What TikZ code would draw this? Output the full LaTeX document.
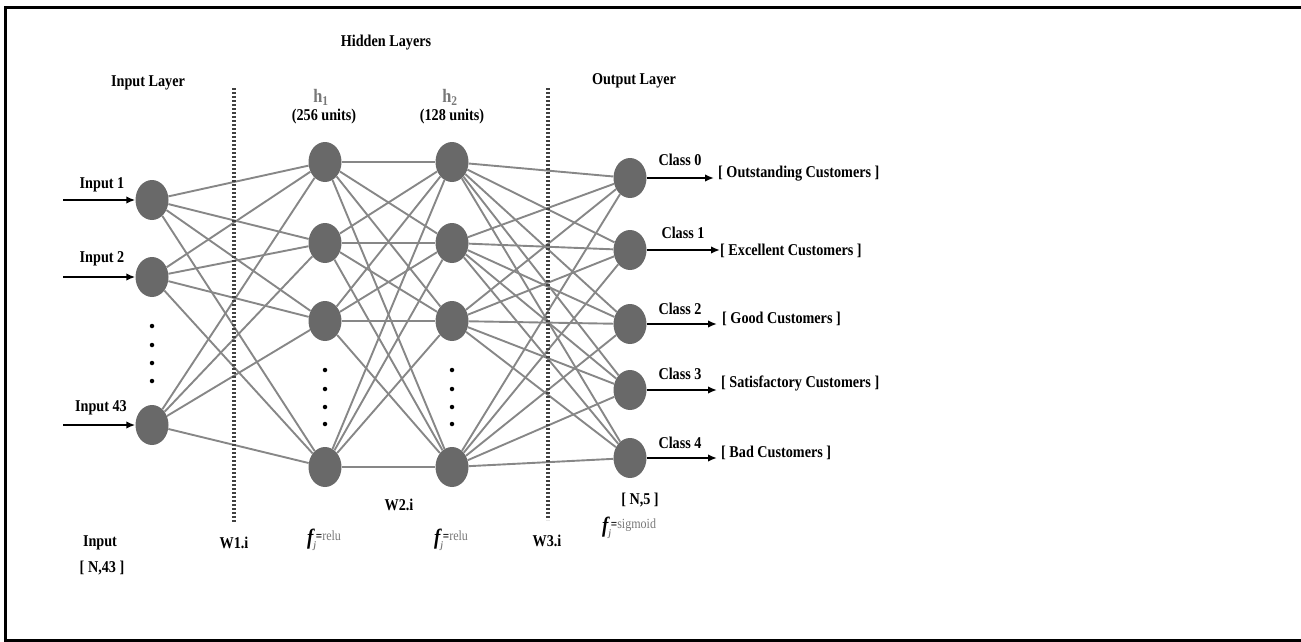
\documentclass[tikz,border=0pt]{standalone}
\usepackage{fontspec}
\setmainfont[FakeStretch=0.86]{Liberation Serif}
\usetikzlibrary{shapes.geometric,arrows.meta}
\definecolor{nodegray}{RGB}{105,105,105}
\definecolor{edgegray}{RGB}{135,135,135}
\definecolor{txtgray}{RGB}{120,120,120}
% activation label: bold f, grey subscript j, "=" and grey function name
\newcommand\actlabel[1]{{\fontsize{22}{22}\selectfont\bfseries\itshape f}\raisebox{-4pt}{\fontsize{10}{10}\selectfont\color{txtgray}\itshape j}\raisebox{4pt}{\fontsize{13}{13}\selectfont\bfseries =}\raisebox{4pt}{\fontsize{14}{14}\selectfont\mdseries\color{txtgray}#1}}
\begin{document}
\begin{tikzpicture}[x=1pt,y=-1pt,
  neuron/.style={ellipse, fill=nodegray, minimum width=33pt, minimum height=40pt, inner sep=0pt},
  link/.style={draw=edgegray, line width=1.9pt},
  feed/.style={-{Latex[length=9pt,width=7.5pt]}, line width=2.2pt, black},
  lbl/.style={font=\fontsize{16.5}{18}\selectfont\bfseries, inner sep=0pt},
  sepline/.style={line width=3.2pt, dash pattern=on 2pt off 2pt, draw=black!75},
  dotmark/.style={circle, fill=black, inner sep=0pt, minimum size=4.5pt}]
\useasboundingbox (0,0) rectangle (1301,642);
\clip (0,0) rectangle (1301,642);
% frame
\draw[line width=3pt] (1310,8) -- (5.5,8) -- (5.5,640.5) -- (1310,640.5);

% input layer
\node[neuron] (i1) at (152,200) {};
\node[neuron] (i2) at (152,277) {};
\node[neuron] (i3) at (152,425) {};
% hidden layer 1
\node[neuron] (a1) at (325,162) {};
\node[neuron] (a2) at (325,243) {};
\node[neuron] (a3) at (325,321) {};
\node[neuron] (a4) at (325,467) {};
% hidden layer 2
\node[neuron] (b1) at (452,162) {};
\node[neuron] (b2) at (452,243) {};
\node[neuron] (b3) at (452,321) {};
\node[neuron] (b4) at (452,467) {};
% output layer
\node[neuron] (o0) at (630,178) {};
\node[neuron] (o1) at (630,250) {};
\node[neuron] (o2) at (630,324) {};
\node[neuron] (o3) at (630,390) {};
\node[neuron] (o4) at (630,458) {};

% weights
\foreach \s in {i1,i2,i3}
  \foreach \t in {a1,a2,a3,a4}
    \draw[link] (\s) -- (\t);
\foreach \s in {a1,a2,a3,a4}
  \foreach \t in {b1,b2,b3,b4}
    \draw[link] (\s) -- (\t);
\foreach \s in {b1,b2,b3,b4}
  \foreach \t in {o0,o1,o2,o3,o4}
    \draw[link] (\s) -- (\t);

% elided units
\foreach \y [count=\k] in {326,345,363,381}
  \node[dotmark] (di\k) at (152,\y) {};
\foreach \y [count=\k] in {370,389,407,424} {
  \node[dotmark] (da\k) at (325,\y) {};
  \node[dotmark] (db\k) at (452,\y) {};
}

% weight separators
\coordinate (s1t) at (234,88);  \coordinate (s1b) at (234,522);
\coordinate (s2t) at (548,88);  \coordinate (s2b) at (548,520);
\draw[sepline] (s1t) -- (s1b);
\draw[sepline] (s2t) -- (s2b);

% inputs
\coordinate (x1) at (63,200);
\coordinate (x2) at (63,277);
\coordinate (x3) at (63,425);
\draw[feed] (x1) -- (i1);
\draw[feed] (x2) -- (i2);
\draw[feed] (x3) -- (i3);
\node[lbl] (tx1) at (102,185) {Input 1};
\node[lbl] (tx2) at (102,259) {Input 2};
\node[lbl] (tx3) at (101,408) {Input 43};

% outputs
\coordinate (y0) at (714,178);
\coordinate (y1) at (720,250);
\coordinate (y2) at (717,324);
\coordinate (y3) at (717,390);
\coordinate (y4) at (717,458);
\draw[feed] (o0) -- (y0);
\draw[feed] (o1) -- (y1);
\draw[feed] (o2) -- (y2);
\draw[feed] (o3) -- (y3);
\draw[feed] (o4) -- (y4);
\node[lbl] (c0) at (680,160) {Class 0};
\node[lbl] (c1) at (683,233) {Class 1};
\node[lbl] (c2) at (680,309) {Class 2};
\node[lbl] (c3) at (680,374) {Class 3};
\node[lbl] (c4) at (680,443) {Class 4};
\node[lbl, anchor=west] (n0) at (718,174) {[ Outstanding Customers ]};
\node[lbl, anchor=west] (n1) at (720,251) {[ Excellent Customers ]};
\node[lbl, anchor=west] (n2) at (722,319) {[ Good Customers ]};
\node[lbl, anchor=west] (n3) at (721,383) {[ Satisfactory Customers ]};
\node[lbl, anchor=west] (n4) at (721,453) {[ Bad Customers ]};

% layer headings
\node[lbl] (hl) at (386,43) {Hidden Layers};
\node[lbl] (il) at (148,83) {Input Layer};
\node[lbl] (ol) at (634,81) {Output Layer};
\node[lbl, text=txtgray, font=\fontsize{19}{20}\selectfont\bfseries] (h1) at (321,97) {h\textsubscript{1}};
\node[lbl, text=txtgray, font=\fontsize{19}{20}\selectfont\bfseries] (h2) at (450,97) {h\textsubscript{2}};
\node[lbl] (u1) at (324,117) {(256 units)};
\node[lbl] (u2) at (452,117) {(128 units)};

% bottom annotations
\node[lbl] (inp) at (100,543) {Input};
\node[lbl] (ins) at (102,568) {[ N,43 ]};
\node[lbl] (w1) at (234,543) {W1.i};
\node[lbl] (w2) at (399,505) {W2.i};
\node[lbl] (w3) at (547,541) {W3.i};
\node[lbl] (os) at (640,500) {[ N,5 ]};
\node[lbl, anchor=west] (f1) at (307,540) {\actlabel{relu}};
\node[lbl, anchor=west] (f2) at (434,540) {\actlabel{relu}};
\node[lbl, anchor=west] (f3) at (602,528) {\actlabel{sigmoid}};
\end{tikzpicture}
\end{document}
